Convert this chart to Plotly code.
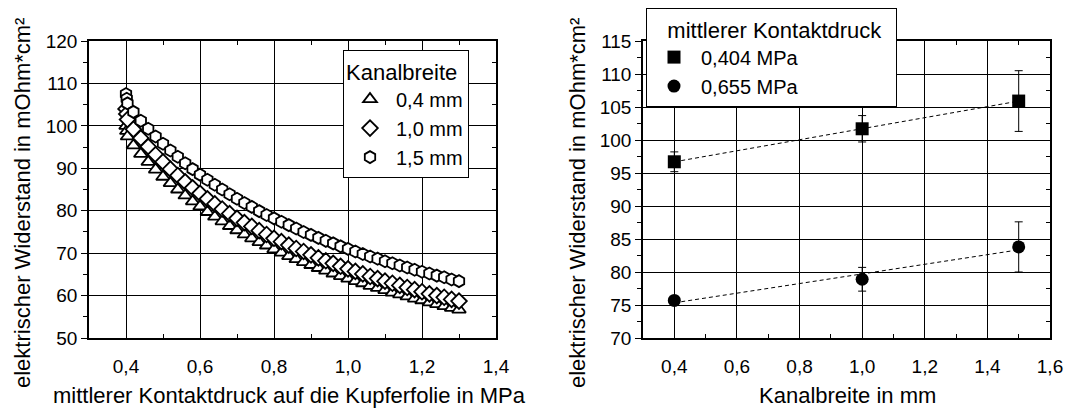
import numpy as np
import plotly.graph_objects as go

# ---------------- data: left chart ----------------
pressure = [0.400, 0.402, 0.404, 0.42, 0.44, 0.46, 0.48, 0.50, 0.52, 0.54, 0.56, 0.58,
            0.60, 0.62, 0.64, 0.66, 0.68, 0.70, 0.72, 0.74, 0.76, 0.78, 0.80,
            0.82, 0.84, 0.86, 0.88, 0.90, 0.92, 0.94, 0.96, 0.98, 1.00,
            1.02, 1.04, 1.06, 1.08, 1.10, 1.12, 1.14, 1.16, 1.18, 1.20,
            1.22, 1.24, 1.26, 1.28, 1.30]
r_04mm = [100.0, 98.8, 97.5, 95.4, 93.4, 91.5, 89.7, 88.0, 86.5, 85.0, 83.6, 82.2,
          81.0, 79.7, 78.6, 77.5, 76.4, 75.4, 74.4, 73.5, 72.6, 71.8, 70.9,
          70.1, 69.3, 68.6, 67.9, 67.2, 66.5, 65.9, 65.2, 64.6, 64.0,
          63.4, 62.9, 62.3, 61.8, 61.3, 60.7, 60.3, 59.8, 59.3, 58.9,
          58.4, 58.0, 57.5, 57.1, 56.7]
r_10mm = [104.0, 102.8, 101.5, 99.2, 97.1, 95.1, 93.2, 91.5, 89.8, 88.3, 86.8, 85.4,
          84.1, 82.8, 81.6, 80.4, 79.3, 78.2, 77.2, 76.3, 75.3, 74.4, 73.5,
          72.7, 71.9, 71.1, 70.4, 69.6, 68.9, 68.2, 67.6, 66.9, 66.3,
          65.7, 65.1, 64.5, 64.0, 63.4, 62.9, 62.4, 61.9, 61.4, 60.9,
          60.4, 60.0, 59.6, 59.1, 58.7]
r_15mm = [107.5, 106.4, 105.3, 103.3, 101.2, 99.3, 97.5, 95.8, 94.2, 92.7, 91.2, 89.8,
          88.5, 87.3, 86.1, 85.0, 83.9, 82.8, 81.8, 80.9, 79.9, 79.0, 78.2,
          77.4, 76.6, 75.8, 75.0, 74.3, 73.6, 72.9, 72.3, 71.6, 71.0,
          70.4, 69.8, 69.2, 68.7, 68.1, 67.6, 67.1, 66.6, 66.1, 65.6,
          65.2, 64.7, 64.3, 63.8, 63.4]
left_names = ["0,4 mm", "1,0 mm", "1,5 mm"]
left_symbols = ["triangle-up", "diamond", "hexagon"]

# ---------------- data: right chart ----------------
kanalbreite = [0.4, 1.0, 1.5]
r_0404 = [96.7, 101.7, 105.9]
e_0404 = [1.5, 2.0, 4.6]
r_0655 = [75.7, 78.9, 83.8]
e_0655 = [0.5, 1.8, 3.8]
right_names = ["0,404 MPa", "0,655 MPa"]

FONT = "Liberation Sans, Arial, sans-serif"
W, H = 1067, 409
NB = "\u00a0"

def px_x(p):
    return p / W

def px_y(p):
    return 1 - p / H

dom_y = [px_y(338), px_y(41)]
dom_x1 = [px_x(89), px_x(496)]
dom_x2 = [px_x(643), px_x(1050)]

fig = go.Figure()

# left chart traces
for name, sym, vals in zip(left_names, left_symbols, [r_04mm, r_10mm, r_15mm]):
    fig.add_trace(go.Scatter(
        x=pressure, y=vals, mode="markers", name=name,
        marker=dict(symbol=sym, size=12, color="white",
                    line=dict(color="black", width=1.8)),
        xaxis="x", yaxis="y", legend="legend", legendgroup=name,
    ))

# right chart fit lines
for vals in [r_0404, r_0655]:
    k, d = np.polyfit(kanalbreite, vals, 1)
    xs = np.array([kanalbreite[0], kanalbreite[-1]])
    fig.add_trace(go.Scatter(
        x=xs, y=k * xs + d, mode="lines", showlegend=False,
        line=dict(color="black", width=1, dash="4px,3px"),
        xaxis="x2", yaxis="y2", hoverinfo="skip",
    ))

# right chart points
for name, sym, vals, err in zip(right_names, ["square", "circle"],
                                [r_0404, r_0655], [e_0404, e_0655]):
    fig.add_trace(go.Scatter(
        x=kanalbreite, y=vals, mode="markers", name=name,
        marker=dict(symbol=sym, size=13, color="black",
                    line=dict(color="black", width=0)),
        error_y=dict(type="data", array=err, color="black", thickness=1, width=4),
        xaxis="x2", yaxis="y2", legend="legend2", legendgroup=name,
    ))

# dummy traces so the mirrored right-hand axes get drawn
fig.add_trace(go.Scatter(x=[None], y=[None], xaxis="x", yaxis="y3",
                         showlegend=False, hoverinfo="skip"))
fig.add_trace(go.Scatter(x=[None], y=[None], xaxis="x2", yaxis="y4",
                         showlegend=False, hoverinfo="skip"))

tickfont = dict(family=FONT, size=19, color="black")

def xaxis(domain, anchor, rng):
    return dict(
        domain=domain, anchor=anchor, range=rng, tick0=0.4, dtick=0.2,
        tickformat=".1f", ticks="inside", ticklen=6, tickwidth=1, tickcolor="black",
        mirror="ticks", showline=True, linecolor="black", linewidth=1.5,
        showgrid=True, gridcolor="black", gridwidth=1, zeroline=False,
        tickfont=tickfont, ticklabelstandoff=10,
        minor=dict(dtick=0.1, ticks="inside", ticklen=4, tickcolor="black",
                   tickwidth=1, showgrid=False),
        automargin=False, fixedrange=True,
    )

def yaxis(domain, anchor, rng, dt, mdt):
    return dict(
        domain=domain, anchor=anchor, range=rng, dtick=dt, tick0=rng[0],
        ticks="outside", ticklen=6, tickwidth=1, tickcolor="black",
        mirror=True, showline=True, linecolor="black", linewidth=1.5,
        showgrid=True, gridcolor="black", gridwidth=1, zeroline=False,
        tickfont=tickfont,
        minor=dict(dtick=mdt, ticks="outside", ticklen=4, tickcolor="black",
                   tickwidth=1, showgrid=False),
        automargin=False, fixedrange=True,
    )

def yaxis_right(overlay, anchor, rng, dt, mdt):
    return dict(
        overlaying=overlay, anchor=anchor, side="right", range=rng, dtick=dt,
        tick0=rng[0], ticks="inside", ticklen=6, tickwidth=1, tickcolor="black",
        showticklabels=False, showline=False, showgrid=False, zeroline=False,
        minor=dict(dtick=mdt, ticks="inside", ticklen=4, tickcolor="black",
                   tickwidth=1, showgrid=False),
        automargin=False, fixedrange=True,
    )

legend_common = dict(
    bgcolor="white", bordercolor="black", borderwidth=1,
    font=dict(family=FONT, size=20, color="black"),
    xanchor="left", yanchor="top", tracegroupgap=0,
)

fig.update_layout(
    width=W, height=H,
    margin=dict(l=0, r=0, t=0, b=0, pad=0),
    paper_bgcolor="white", plot_bgcolor="white",
    font=dict(family=FONT, size=19, color="black"),
    separators=",.",
    xaxis=xaxis(dom_x1, "y", [0.3, 1.4]),
    yaxis=yaxis(dom_y, "x", [50, 120], 10, 5),
    yaxis3=yaxis_right("y", "x", [50, 120], 10, 5),
    xaxis2=xaxis(dom_x2, "y2", [0.3, 1.6]),
    yaxis2=yaxis(dom_y, "x2", [70, 115], 5, 2.5),
    yaxis4=yaxis_right("y2", "x2", [70, 115], 5, 2.5),
    legend=dict(legend_common, x=px_x(343), y=px_y(50), itemwidth=42,
                title=dict(text="Kanalbreite" + NB,
                           font=dict(family=FONT, size=22))),
    legend2=dict(legend_common, x=px_x(646), y=px_y(8), itemwidth=44,
                 title=dict(text=NB * 3 + "mittlerer Kontaktdruck" + NB * 2,
                            font=dict(family=FONT, size=22))),
    showlegend=True,
    annotations=[
        dict(text="elektrischer Widerstand in mOhm*cm²", xref="paper", yref="paper",
             x=px_x(22), y=px_y(203), textangle=-90, showarrow=False,
             xanchor="center", yanchor="middle", font=dict(family=FONT, size=22)),
        dict(text="elektrischer Widerstand in mOhm*cm²", xref="paper", yref="paper",
             x=px_x(577), y=px_y(203), textangle=-90, showarrow=False,
             xanchor="center", yanchor="middle", font=dict(family=FONT, size=22)),
        dict(text="mittlerer Kontaktdruck auf die Kupferfolie in MPa", xref="paper",
             yref="paper", x=px_x(289), y=px_y(395), showarrow=False,
             xanchor="center", yanchor="middle", font=dict(family=FONT, size=22)),
        dict(text="Kanalbreite in mm", xref="paper", yref="paper",
             x=px_x(847), y=px_y(395), showarrow=False,
             xanchor="center", yanchor="middle", font=dict(family=FONT, size=22)),
    ],
)

fig.write_html("out.html")
